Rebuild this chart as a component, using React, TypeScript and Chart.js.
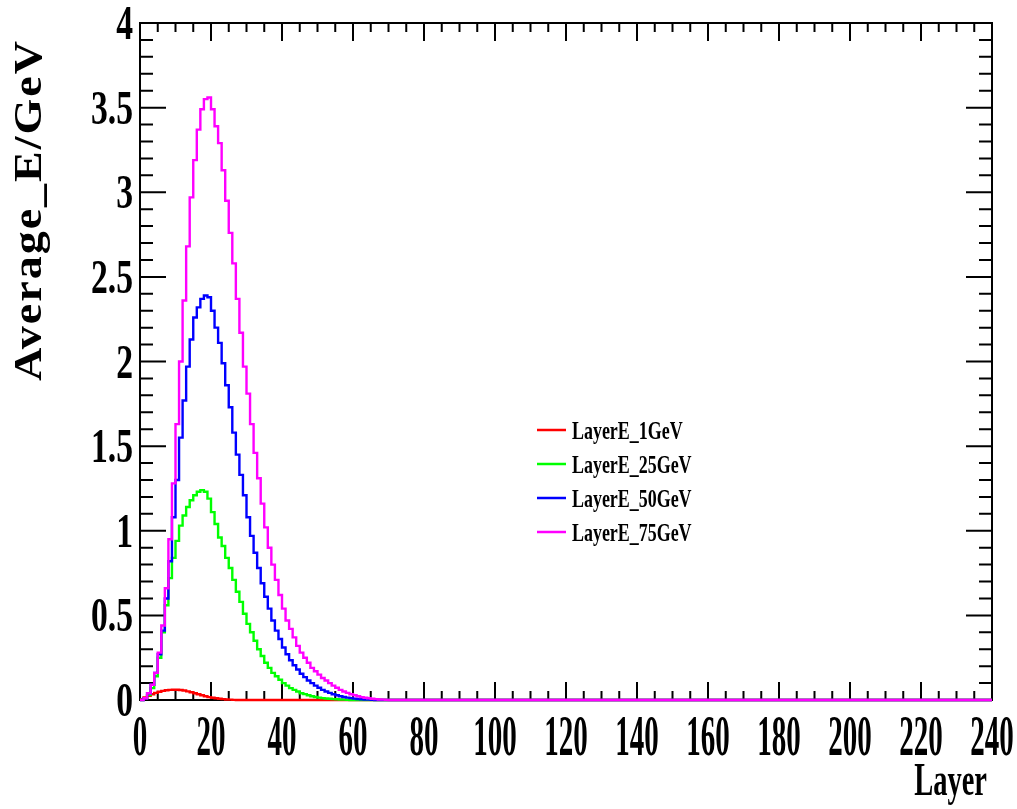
import React, { useEffect, useRef } from 'react';
import { Chart, registerables } from 'chart.js';

Chart.register(...registerables);

// ---- axis ranges & tick labels ----
const xRange = [0, 240];
const yRange = [0, 4];
const xTickLabels = ['0', '20', '40', '60', '80', '100', '120', '140', '160', '180', '200', '220', '240'];
const yTickLabels = ['0', '0.5', '1', '1.5', '2', '2.5', '3', '3.5', '4'];
const xTitle = 'Layer';
const yTitle = 'Average_E/GeV';

// ---- series (value per layer bin, starting at layer 0; later bins are 0) ----
const seriesNames = ['LayerE_1GeV', 'LayerE_25GeV', 'LayerE_50GeV', 'LayerE_75GeV'];
const seriesColors = ['#ff0000', '#00ff00', '#0000ff', '#ff00ff'];

const layerE_1GeV = [
  0.005, 0.015, 0.025, 0.034, 0.042, 0.049, 0.054, 0.058, 0.06, 0.061,
  0.061, 0.059, 0.056, 0.051, 0.046, 0.04, 0.034, 0.028, 0.022, 0.017,
  0.013, 0.01, 0.007, 0.005, 0.003, 0.002, 0.001,
];

const layerE_25GeV = [
  0, 0.01, 0.03, 0.07, 0.14, 0.25, 0.4, 0.56, 0.72, 0.84,
  0.94, 1.03, 1.09, 1.14, 1.18, 1.21, 1.23, 1.24, 1.23, 1.19,
  1.11, 1.04, 0.96, 0.91, 0.84, 0.78, 0.71, 0.64, 0.58, 0.51,
  0.45, 0.4, 0.35, 0.3, 0.26, 0.22, 0.19, 0.16, 0.14, 0.12,
  0.1, 0.085, 0.07, 0.06, 0.05, 0.04, 0.035, 0.028, 0.022, 0.018,
  0.014, 0.011, 0.009, 0.007, 0.005, 0.004, 0.003, 0.002, 0.001,
];

const layerE_50GeV = [
  0, 0.01, 0.04, 0.09, 0.16, 0.27, 0.41, 0.6, 0.82, 1.08,
  1.3, 1.55, 1.77, 1.97, 2.13, 2.26, 2.32, 2.37, 2.39, 2.38,
  2.3, 2.2, 2.11, 1.99, 1.86, 1.73, 1.58, 1.45, 1.33, 1.21,
  1.08, 0.97, 0.87, 0.78, 0.69, 0.61, 0.54, 0.47, 0.41, 0.36,
  0.31, 0.27, 0.235, 0.205, 0.18, 0.155, 0.135, 0.115, 0.1, 0.085,
  0.072, 0.06, 0.05, 0.042, 0.034, 0.028, 0.022, 0.018, 0.014, 0.011,
  0.008, 0.006, 0.004, 0.003, 0.002, 0.001,
];

const layerE_75GeV = [
  0, 0.01, 0.04, 0.09, 0.16, 0.28, 0.44, 0.66, 0.95, 1.28,
  1.63, 2.0, 2.36, 2.68, 2.97, 3.19, 3.37, 3.49, 3.55, 3.56,
  3.49, 3.39, 3.29, 3.13, 2.95, 2.76, 2.58, 2.37, 2.17, 1.97,
  1.81, 1.63, 1.46, 1.31, 1.16, 1.02, 0.9, 0.8, 0.71, 0.62,
  0.54, 0.47, 0.42, 0.37, 0.32, 0.28, 0.25, 0.22, 0.19, 0.17,
  0.15, 0.13, 0.115, 0.1, 0.085, 0.072, 0.06, 0.05, 0.042, 0.034,
  0.028, 0.022, 0.017, 0.013, 0.01, 0.007, 0.005, 0.003, 0.002, 0.001,
];

const seriesValues = [layerE_1GeV, layerE_25GeV, layerE_50GeV, layerE_75GeV];

const FONT = '"Liberation Serif", "Times New Roman", Times, serif';

function histPoints(vals: number[]) {
  const pts = vals.map((v, i) => ({ x: i, y: v }));
  pts.push({ x: vals.length, y: 0 });
  pts.push({ x: xRange[1], y: 0 });
  return pts;
}

function squashText(
  ctx: CanvasRenderingContext2D,
  text: string,
  x: number,
  y: number,
  sx: number,
  align: CanvasTextAlign,
  baseline: CanvasTextBaseline,
) {
  ctx.save();
  ctx.translate(x, y);
  ctx.scale(sx, 1);
  ctx.textAlign = align;
  ctx.textBaseline = baseline;
  ctx.fillText(text, 0, 0);
  ctx.restore();
}

const rootFramePlugin = {
  id: 'rootFrame',
  beforeDatasetsDraw(chart: any) {
    const { ctx, chartArea } = chart;
    const xs = chart.scales.x;
    const ys = chart.scales.y;
    const { left, right, top, bottom } = chartArea;
    ctx.save();
    ctx.strokeStyle = '#000';
    ctx.lineWidth = 2;
    ctx.strokeRect(left, top, right - left, bottom - top);

    ctx.lineWidth = 2;
    ctx.beginPath();
    // x ticks: minor every 5, major every 20
    for (let v = xRange[0]; v <= xRange[1]; v += 5) {
      const px = xs.getPixelForValue(v);
      const len = v % 20 === 0 ? 18 : 9;
      ctx.moveTo(px, bottom);
      ctx.lineTo(px, bottom - len);
      ctx.moveTo(px, top);
      ctx.lineTo(px, top + len);
    }
    // y ticks: minor every 0.1, major every 0.5
    for (let i = 0; i <= 40; i++) {
      const v = i / 10;
      const py = ys.getPixelForValue(v);
      const len = i % 5 === 0 ? 26 : 13;
      ctx.moveTo(left, py);
      ctx.lineTo(left + len, py);
      ctx.moveTo(right, py);
      ctx.lineTo(right - len, py);
    }
    ctx.stroke();

    // tick labels
    ctx.fillStyle = '#000';
    ctx.font = `bold 58px ${FONT}`;
    xTickLabels.forEach((t) => {
      const px = xs.getPixelForValue(parseFloat(t));
      squashText(ctx, t, px, 755, 0.5, 'center', 'alphabetic');
    });
    ctx.font = `bold 48px ${FONT}`;
    yTickLabels.forEach((t) => {
      const py = ys.getPixelForValue(parseFloat(t));
      squashText(ctx, t, left - 7, py + 16, 0.7, 'right', 'alphabetic');
    });

    // axis titles
    ctx.font = `bold 46px ${FONT}`;
    squashText(ctx, xTitle, 987, 795, 0.62, 'right', 'alphabetic');
    ctx.save();
    ctx.translate(31, 210);
    ctx.rotate(-Math.PI / 2);
    ctx.scale(1, 0.85);
    (ctx as any).letterSpacing = '2px';
    ctx.textAlign = 'center';
    ctx.textBaseline = 'middle';
    ctx.fillText(yTitle, 0, 0);
    ctx.restore();

    ctx.restore();
  },
  afterDraw(chart: any) {
    const { ctx } = chart;
    ctx.save();
    const rows = [430, 464, 498, 532];
    ctx.font = `bold 26px ${FONT}`;
    seriesNames.forEach((name, i) => {
      ctx.strokeStyle = seriesColors[i];
      ctx.lineWidth = 2.5;
      ctx.beginPath();
      ctx.moveTo(537, rows[i]);
      ctx.lineTo(566, rows[i]);
      ctx.stroke();
      ctx.fillStyle = '#000';
      squashText(ctx, name, 572, rows[i] + 9, 0.69, 'left', 'alphabetic');
    });
    ctx.restore();
  },
};

export default function App() {
  const canvasRef = useRef<HTMLCanvasElement | null>(null);

  useEffect(() => {
    const canvas = canvasRef.current;
    if (!canvas) return;
    const chart = new Chart(canvas, {
      type: 'line',
      data: {
        datasets: seriesNames.map((name, i) => ({
          label: name,
          data: histPoints(seriesValues[i]),
          borderColor: seriesColors[i],
          backgroundColor: seriesColors[i],
          borderWidth: 2.4,
          pointRadius: 0,
          stepped: 'before' as const,
          fill: false,
          clip: false as any,
          order: seriesNames.length - i,
        })),
      },
      options: {
        animation: false,
        responsive: false,
        devicePixelRatio: 1,
        parsing: true,
        layout: { padding: { left: 140, top: 23, right: 25, bottom: 109 } },
        plugins: {
          legend: { display: false },
          tooltip: { enabled: false },
          title: { display: false },
        },
        scales: {
          x: { type: 'linear', min: xRange[0], max: xRange[1], display: false },
          y: { type: 'linear', min: yRange[0], max: yRange[1], display: false },
        },
      },
      plugins: [rootFramePlugin],
    });
    return () => chart.destroy();
  }, []);

  return (
    <div style={{ position: 'fixed', left: 0, top: 0, width: 1017, height: 809, background: '#fff' }}>
      <canvas ref={canvasRef} width={1017} height={809} style={{ display: 'block' }} />
    </div>
  );
}
